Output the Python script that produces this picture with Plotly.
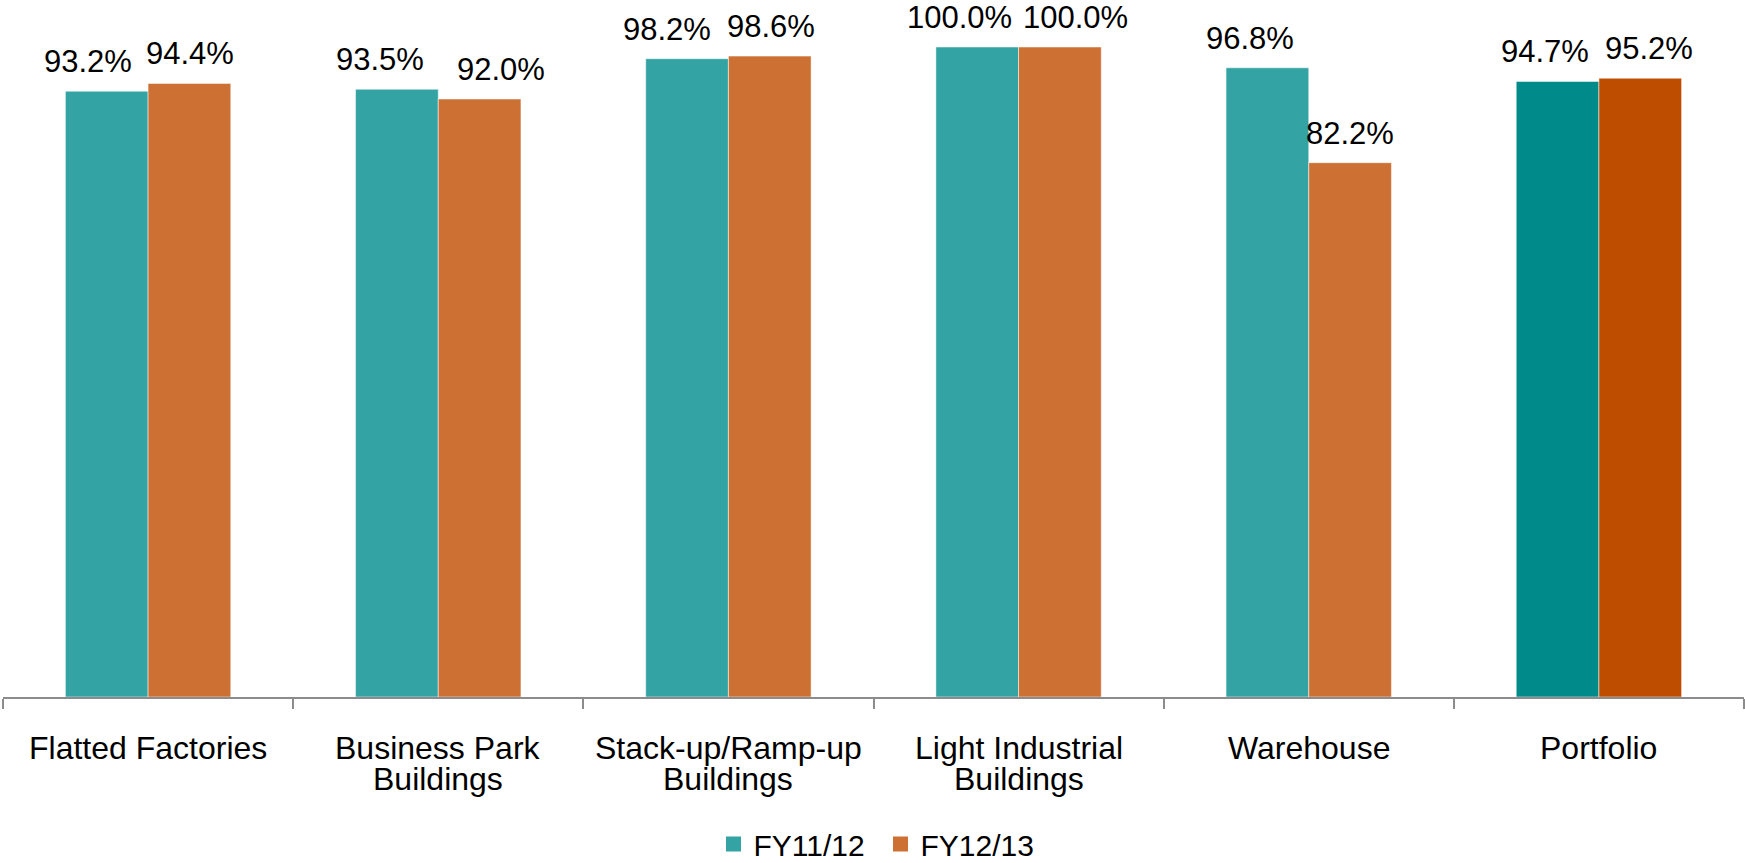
import plotly.graph_objects as go

categories = ["Flatted Factories", "Business Park<br>Buildings", "Stack-up/Ramp-up<br>Buildings",
              "Light Industrial<br>Buildings", "Warehouse", "Portfolio"]
fy1112 = [93.2, 93.5, 98.2, 100.0, 96.8, 94.7]
fy1213 = [94.4, 92.0, 98.6, 100.0, 82.2, 95.2]
series_names = ["FY11/12", "FY12/13"]

# small horizontal nudges of the value labels (px), as in the original
label_nudge_1112 = [-19, -17, -20, -18, -17, -13]
label_nudge_1213 = [1, 21, 1, 16, 0, 9]

teal = "#33A3A3"
teal_dark = "#008B8B"
orange = "#CC7033"
orange_dark = "#BF4D00"

FONT = "Liberation Sans, Arial, sans-serif"
BARGAP = 0.43

x_idx = list(range(len(categories)))

fig = go.Figure()
fig.add_trace(go.Bar(
    x=x_idx, y=fy1112, name=series_names[0], showlegend=False,
    marker=dict(color=[teal] * 5 + [teal_dark], line=dict(color="rgba(255,255,255,0.5)", width=1)),
))
fig.add_trace(go.Bar(
    x=x_idx, y=fy1213, name=series_names[1], showlegend=False,
    marker=dict(color=[orange] * 5 + [orange_dark], line=dict(color="rgba(255,255,255,0.5)", width=1)),
))
# legend entries with larger square swatches
for nm, col in zip(series_names, [teal, orange]):
    fig.add_trace(go.Scatter(x=[None], y=[None], mode="markers", name=nm,
                             marker=dict(symbol="square", size=15, color=col)))

# value labels
off = (1 - BARGAP) / 4
for vals, sign, nudges in [(fy1112, -1, label_nudge_1112), (fy1213, 1, label_nudge_1213)]:
    for i, v in enumerate(vals):
        fig.add_annotation(x=i + sign * off, xref="x", y=v, yref="y", yanchor="bottom",
                           xanchor="center", xshift=nudges[i], yshift=10,
                           text=f"{v:.1f}%", showarrow=False,
                           font=dict(size=31, color="#000000", family=FONT))

# category labels (tight line spacing like the original)
for i, c in enumerate(categories):
    for j, ln in enumerate(c.split("<br>")):
        fig.add_annotation(x=i, xref="x", y=0, yref="paper", yanchor="middle",
                           yshift=-51 - 31 * j, text=ln, showarrow=False,
                           font=dict(size=32, color="#000000", family=FONT))

fig.update_layout(
    width=1745, height=863,
    margin=dict(l=3, r=1, t=47, b=166),
    paper_bgcolor="white", plot_bgcolor="white",
    barmode="group", bargap=BARGAP, bargroupgap=0,
    showlegend=True,
    legend=dict(orientation="h", x=0.5046, xanchor="center", xref="container",
                y=0.022, yanchor="middle", yref="container",
                entrywidth=122, entrywidthmode="pixels",
                font=dict(size=30, color="#000000", family=FONT),
                bgcolor="rgba(0,0,0,0)"),
    font=dict(family=FONT),
)
fig.update_xaxes(
    type="linear", range=[-0.5, len(categories) - 0.5],
    tickmode="array", tickvals=[i - 0.5 for i in range(len(categories) + 1)],
    showticklabels=False, ticks="outside", ticklen=10, tickwidth=2, tickcolor="#8C8C8C",
    showline=True, linecolor="#8C8C8C", linewidth=2, showgrid=False, zeroline=False,
)
fig.update_yaxes(range=[0, 100], visible=False, showgrid=False)

fig.write_html("out.html")
